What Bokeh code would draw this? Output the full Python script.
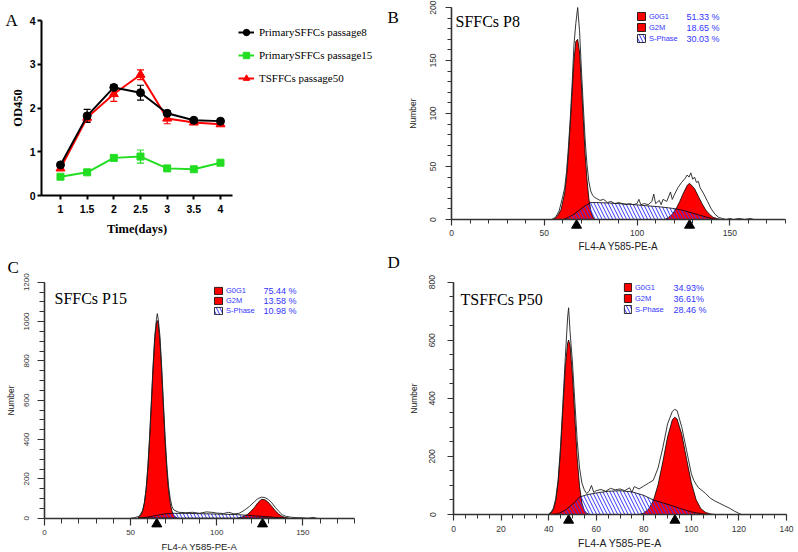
from bokeh.plotting import figure
from bokeh.layouts import column, row
from bokeh.models import (Range1d, Whisker, TeeHead, Legend, LegendItem, Label,
                          FixedTicker, SingleIntervalTicker, ColumnDataSource)
from bokeh.embed import file_html
from bokeh.resources import INLINE

SERIF = "Liberation Serif"
SANS = "Liberation Sans"
RED = "#ff0000"
GREEN = "#22dd22"
BLUE = "#3535ff"
AXIS = "#333333"

# ---------------- A: growth curves (OD450) ----------------
days = [1, 1.5, 2, 2.5, 3, 3.5, 4]
day_labels = ["1", "1.5", "2", "2.5", "3", "3.5", "4"]
od_ticks = [0, 1, 2, 3, 4]
p8_mean = [0.70, 1.82, 2.47, 2.35, 1.88, 1.72, 1.70]
p8_err = [0.05, 0.15, 0.06, 0.17, 0.05, 0.04, 0.05]
p15_mean = [0.43, 0.53, 0.86, 0.89, 0.62, 0.60, 0.75]
p15_err = [0.03, 0.04, 0.06, 0.15, 0.04, 0.04, 0.04]
p50_mean = [0.62, 1.78, 2.32, 2.76, 1.76, 1.67, 1.63]
p50_err = [0.04, 0.08, 0.17, 0.11, 0.12, 0.04, 0.04]
series_names = ["PrimarySFFCs passage8", "PrimarySFFCs passage15", "TSFFCs passage50"]

# ---------------- cell-cycle histograms ----------------
phase_names = ["G0G1", "G2M", "S-Phase"]

# B: SFFCs P8
B_raw_x = [50, 54, 56, 58, 60, 61, 62, 63, 64, 65, 66, 67, 68, 69, 70, 71, 72, 73, 74, 75, 76, 77, 78,
           80, 82, 84, 86, 88, 90, 92, 94, 96, 98, 100, 101, 102, 104, 106, 108, 109, 110, 112, 113, 114,
           116, 118, 119, 120, 122, 124, 126, 127, 128, 129, 130, 131, 132, 133, 134, 136, 138, 140, 142,
           144, 146, 148, 150, 152, 155, 158, 161, 163, 166]
B_raw_y = [0, 0, 2, 8, 22, 30, 45, 68, 95, 128, 165, 185, 200, 178, 142, 108, 76, 52, 36, 27, 23, 21, 20,
           18, 19, 16, 17, 15, 16, 15, 14, 15, 14, 15, 19, 14, 15, 14, 17, 24, 15, 18, 14, 19,
           17, 26, 19, 23, 30, 35, 39, 42, 40, 44, 38, 40, 35, 36, 30, 24, 17, 10, 5,
           2, 1, 0, 1, 0, 1, 0, 1, 0, 0]
B_g1_x = [55, 57, 59, 61, 62, 63, 64, 65, 66, 67, 68, 69, 70, 71, 72, 73, 74, 75, 76, 77]
B_g1_y = [0, 3, 9, 25, 40, 62, 90, 120, 150, 168, 170, 158, 128, 95, 62, 38, 20, 9, 3, 0]
B_g2_x = [115, 117, 119, 121, 123, 125, 127, 128, 129, 131, 133, 135, 137, 139, 141, 143, 145]
B_g2_y = [0, 2, 5, 10, 17, 25, 32, 34, 33, 29, 22, 15, 9, 5, 2, 1, 0]
B_s_x = [60, 63, 66, 69, 72, 75, 78, 85, 95, 105, 112, 117, 121, 125, 129, 133, 137, 140, 143]
B_s_y = [0, 2, 5, 9, 13, 16, 16, 15.5, 14.5, 13, 12, 11, 10, 8.5, 6.5, 4.5, 2.5, 1, 0]
B_peaks = [67.4, 128.3]
B_pct = ["51.33 %", "18.65 %", "30.03 %"]

# C: SFFCs P15
C_raw_x = [50, 52, 55, 57, 58, 59, 60, 61, 62, 63, 64, 65, 65.5, 66, 67, 68, 69, 70, 71, 72, 73, 74, 75,
           78, 82, 86, 90, 94, 97, 100, 104, 107, 110, 113, 116, 119, 122, 124, 126, 128, 130, 132, 134,
           136, 138, 140, 143, 146, 150, 153, 156, 158]
C_raw_y = [0, 2, 10, 40, 80, 150, 260, 410, 585, 770, 925, 1010, 1040, 1015, 930, 775, 595, 420, 275, 165,
           100, 60, 42, 30, 28, 30, 25, 32, 30, 26, 24, 30, 22, 25, 40, 60, 85, 100, 107, 105, 95, 78, 55,
           35, 18, 10, 5, 3, 2, 0, 4, 0]
C_g1_x = [54, 55, 56, 57, 58, 59, 60, 61, 62, 63, 64, 65, 65.5, 66, 67, 68, 69, 70, 71, 72, 73, 74, 75, 76, 77]
C_g1_y = [0, 6, 16, 36, 76, 145, 251, 397, 573, 755, 906, 994, 1005, 994, 906, 755, 573, 397, 251, 145,
          76, 36, 16, 6, 0]
C_g2_x = [112, 114, 116, 118, 120, 122, 124, 126, 128, 130, 132, 134, 136, 138, 140, 142]
C_g2_y = [0, 4, 10, 20, 36, 56, 80, 96, 94, 80, 60, 38, 21, 9, 3, 0]
C_s_x = [55, 60, 65, 70, 75, 85, 95, 105, 112, 118, 124, 130, 135, 140]
C_s_y = [0, 6, 14, 22, 25, 24, 22, 20, 18, 15, 11, 7, 3.5, 0]
C_peaks = [65.2, 126.6]
C_pct = ["75.44 %", "13.58 %", "10.98 %"]

# D: TSFFCs P50
D_raw_x = [40, 41, 42, 43, 44, 45, 46, 47, 48, 48.4, 49, 50, 51, 52, 53, 54, 55, 56, 57, 58, 59, 60,
           62, 64, 66, 68, 70, 72, 74, 75, 76, 78, 80, 82, 84, 86, 88, 90, 92, 93, 94, 96, 98, 100,
           101, 102, 103, 104, 106, 108, 110, 112, 114, 116, 118, 120, 121]
D_raw_y = [2, 8, 22, 55, 120, 235, 385, 540, 680, 712, 630, 525, 390, 255, 160, 108, 85, 72, 80, 100, 76, 82,
           86, 80, 90, 85, 88, 82, 92, 76, 96, 88, 98, 108, 118, 160, 230, 312, 355, 362, 358, 300, 220, 140,
           118, 104, 92, 86, 72, 56, 46, 38, 30, 22, 12, 4, 0]
D_g1_x = [40, 41, 42, 43, 44, 45, 46, 47, 48, 48.4, 49, 50, 51, 52, 53, 54, 55, 56, 57]
D_g1_y = [0, 5, 17, 48, 112, 220, 365, 506, 591, 601, 583, 480, 336, 195, 96, 39, 14, 4, 0]
D_g2_x = [78, 80, 82, 84, 86, 88, 90, 92, 93, 94, 96, 98, 100, 102, 104, 106, 108, 110]
D_g2_y = [0, 5, 18, 47, 102, 181, 267, 326, 335, 329, 275, 190, 109, 51, 20, 7, 2, 0]
D_s_x = [41, 44, 47, 50, 53, 56, 60, 65, 70, 75, 80, 84, 88, 92, 96, 100, 104, 107]
D_s_y = [0, 3, 15, 35, 60, 68, 74, 80, 82, 78, 66, 50, 40, 30, 19, 9, 3, 0]
D_peaks = [48.4, 93.1]
D_pct = ["34.93%", "36.61%", "28.46 %"]


def canvas(W, H, box, xr, yr):
    """Figure whose frame fills the whole canvas; the data area sits in `box`
    (left, right, top, base pixels) so axes and texts all stay inside the frame."""
    l, r, t, b = box
    x0, x1 = xr
    y0, y1 = yr
    ppx = (r - l) / (x1 - x0)
    ppy = (b - t) / (y1 - y0)
    p = figure(width=W, height=H,
               x_range=Range1d(x0 - l / ppx, x1 + (W - r) / ppx),
               y_range=Range1d(y0 - (H - b) / ppy, y1 + t / ppy),
               output_backend="svg", toolbar_location=None, title=None,
               min_border_left=0, min_border_right=0, min_border_top=0, min_border_bottom=0)
    p.outline_line_color = None
    p.xgrid.visible = False
    p.ygrid.visible = False
    p.background_fill_color = "white"
    p.border_fill_color = "white"

    def dx(px):
        return x0 + (px - l) / ppx

    def dy(py):
        return y0 + (b - py) / ppy

    xa, ya = p.xaxis[0], p.yaxis[0]
    xa.fixed_location = y0
    xa.bounds = (x0, x1)
    ya.fixed_location = x0
    ya.bounds = (y0, y1)
    return p, dx, dy


def growth_panel():
    W, H = 385, 250
    p, dx, dy = canvas(W, H, (41, 232, 20, 195), (0.644, 4.225), (0, 4))

    specs = {
        "p15": (p15_mean, p15_err, GREEN, "square", 7),
        "p50": (p50_mean, p50_err, RED, "triangle", 9),
        "p8": (p8_mean, p8_err, "black", "circle", 8),
    }
    rends = {}
    for key in ["p15", "p50", "p8"]:
        mean, err, col, mk, sz = specs[key]
        src = ColumnDataSource(dict(x=days, lo=[m - e for m, e in zip(mean, err)],
                                    hi=[m + e for m, e in zip(mean, err)]))
        p.add_layout(Whisker(source=src, base="x", lower="lo", upper="hi",
                             line_color=col, line_width=1.2,
                             upper_head=TeeHead(size=7, line_color=col, line_width=1.2),
                             lower_head=TeeHead(size=7, line_color=col, line_width=1.2)))
        ln = p.line(days, mean, line_color=col, line_width=2)
        mr = p.scatter(days, mean, marker=mk, size=sz, fill_color=col, line_color=col)
        rends[key] = [ln, mr]

    leg = Legend(items=[LegendItem(label=series_names[0], renderers=rends["p8"]),
                        LegendItem(label=series_names[1], renderers=rends["p15"]),
                        LegendItem(label=series_names[2], renderers=rends["p50"])],
                 location=(238, H - (23 + 3 * 18 + 2 * 5)),
                 glyph_width=16, glyph_height=18, label_height=18, spacing=5,
                 padding=0, margin=0, label_standoff=5,
                 border_line_color=None, background_fill_alpha=0,
                 label_text_font=SERIF, label_text_font_size="11px", label_text_color="black")
    p.add_layout(leg)

    xa, ya = p.xaxis[0], p.yaxis[0]
    xa.ticker = FixedTicker(ticks=days)
    xa.major_label_overrides = {d: s for d, s in zip(days, day_labels)}
    ya.ticker = FixedTicker(ticks=od_ticks)
    for ax in (xa, ya):
        ax.axis_line_color = "black"
        ax.axis_line_width = 2
        ax.major_tick_line_color = "black"
        ax.major_tick_line_width = 2
        ax.major_tick_in = 0
        ax.major_tick_out = 4
        ax.minor_tick_line_color = None
        ax.major_label_text_font = SANS
        ax.major_label_text_font_style = "bold"
        ax.major_label_text_font_size = "10.5px"
        ax.major_label_text_color = "black"
        ax.axis_label_text_font = SERIF
        ax.axis_label_text_font_style = "bold"
        ax.axis_label_text_font_size = "12.5px"
        ax.axis_label_text_color = "black"
    xa.axis_label = "Time(days)"
    ya.axis_label = "OD450"
    xa.major_label_standoff = 5
    xa.axis_label_standoff = 6
    ya.major_label_standoff = 2
    ya.axis_label_standoff = 2

    p.add_layout(Label(x=dx(5), y=dy(20), text="A", text_font=SERIF, text_font_size="17px",
                       text_color="black", text_baseline="alphabetic"))
    return p


def flow_panel(cfg, raw_x, raw_y, g1_x, g1_y, g2_x, g2_y, s_x, s_y, peaks, pct, title, letter):
    W, H = cfg["W"], cfg["H"]
    l, r, t, b = cfg["box"]
    xmax, ymax = cfg["xmax"], cfg["ymax"]
    p, dx, dy = canvas(W, H, cfg["box"], (0, xmax), (0, ymax))

    r1 = p.patch(g1_x, g1_y, fill_color=RED, line_color="black", line_width=0.8)
    r2 = p.patch(g2_x, g2_y, fill_color=RED, line_color="black", line_width=0.8)
    rs = p.patch(s_x, s_y, fill_alpha=0, hatch_pattern="\\", hatch_color=BLUE, hatch_scale=7,
                 hatch_weight=1, line_color="black", line_width=0.8)
    p.line(raw_x, raw_y, line_color="#202020", line_width=0.9)
    p.scatter(peaks, [dy(b + 5.8)] * len(peaks), marker="triangle", size=10,
              fill_color="black", line_color="black")

    gh, sp = cfg["leg_gh"], 1
    leg_h = 3 * gh + 2 * sp
    leg = Legend(items=[LegendItem(label=n, renderers=[rr]) for n, rr in zip(phase_names, [r1, r2, rs])],
                 location=(cfg["leg_x"], H - (cfg["leg_top"] + leg_h)),
                 glyph_width=cfg["leg_gw"], glyph_height=gh, label_height=gh, spacing=sp,
                 padding=0, margin=0, label_standoff=3,
                 border_line_color=None, background_fill_alpha=0,
                 label_text_font=SANS, label_text_font_size="7.5px", label_text_color=BLUE)
    p.add_layout(leg)
    for i, txt in enumerate(pct):
        p.add_layout(Label(x=dx(cfg["pct_x"]), y=dy(cfg["leg_top"] + gh / 2 + i * (gh + sp)), text=txt,
                           text_font=SANS, text_font_size="9px", text_color=BLUE,
                           text_baseline="middle"))

    xa, ya = p.xaxis[0], p.yaxis[0]
    xa.ticker = SingleIntervalTicker(interval=cfg["xmajor"], num_minor_ticks=cfg["xminor"])
    ya.ticker = SingleIntervalTicker(interval=cfg["ymajor"], num_minor_ticks=cfg["yminor"])
    for ax in (xa, ya):
        ax.axis_line_color = AXIS
        ax.axis_line_width = 1.6
        ax.major_tick_line_color = AXIS
        ax.minor_tick_line_color = AXIS
        ax.major_tick_line_width = 1.2
        ax.minor_tick_line_width = 1
        ax.major_tick_in = 0
        ax.minor_tick_in = 0
        ax.major_tick_out = cfg["maj"]
        ax.minor_tick_out = cfg["minr"]
        ax.major_label_text_font = SANS
        ax.major_label_text_font_size = cfg["tick_fs"]
        ax.major_label_text_color = AXIS
        ax.axis_label_text_font = SANS
        ax.axis_label_text_font_style = "normal"
        ax.axis_label_text_color = "#222222"
    xa.axis_label = "FL4-A Y585-PE-A"
    xa.axis_label_text_font_size = cfg["xlab_fs"]
    ya.axis_label = "Number"
    ya.axis_label_text_font_size = "8.5px"
    ya.major_label_orientation = "vertical"
    xa.major_label_standoff = cfg["x_std"][0]
    xa.axis_label_standoff = cfg["x_std"][1]
    ya.major_label_standoff = cfg["y_std"][0]
    ya.axis_label_standoff = cfg["y_std"][1]

    p.add_layout(Label(x=dx(cfg["title_xy"][0]), y=dy(cfg["title_xy"][1]), text=title,
                       text_font=SERIF, text_font_size="16px", text_color="black",
                       text_baseline="alphabetic"))
    p.add_layout(Label(x=dx(cfg["letter_xy"][0]), y=dy(cfg["letter_xy"][1]), text=letter,
                       text_font=SERIF, text_font_size="17px", text_color="black",
                       text_baseline="alphabetic"))
    return p


cfgB = dict(W=413, H=250, box=(66, 400, 7, 219), xmax=180, ymax=200,
            xmajor=50, xminor=5, ymajor=50, yminor=5, maj=6, minr=4, tick_fs="8.5px", xlab_fs="10px",
            x_std=(4, 2), y_std=(10, 9), leg_x=251, leg_top=11, leg_gh=10, leg_gw=10, pct_x=301,
            title_xy=(70, 21), letter_xy=(2, 17))
cfgC = dict(W=385, H=302, box=(44, 354, 31.7, 267.7), xmax=180, ymax=1200,
            xmajor=50, xminor=5, ymajor=200, yminor=4, maj=7, minr=5, tick_fs="8px", xlab_fs="9.5px",
            x_std=(5, 2), y_std=(8, 6), leg_x=213, leg_top=35.5, leg_gh=9, leg_gw=10, pct_x=263,
            title_xy=(54, 48), letter_xy=(7, 17))
cfgD = dict(W=413, H=302, box=(68, 401, 31.7, 264), xmax=140, ymax=800,
            xmajor=20, xminor=4, ymajor=200, yminor=4, maj=6, minr=4, tick_fs="8.5px", xlab_fs="10.5px",
            x_std=(5, 2), y_std=(12, 8), leg_x=238, leg_top=32, leg_gh=10, leg_gw=9, pct_x=288,
            title_xy=(75, 49), letter_xy=(2, 12))

pA = growth_panel()
pB = flow_panel(cfgB, B_raw_x, B_raw_y, B_g1_x, B_g1_y, B_g2_x, B_g2_y, B_s_x, B_s_y,
                B_peaks, B_pct, "SFFCs P8", "B")
pC = flow_panel(cfgC, C_raw_x, C_raw_y, C_g1_x, C_g1_y, C_g2_x, C_g2_y, C_s_x, C_s_y,
                C_peaks, C_pct, "SFFCs P15", "C")
pD = flow_panel(cfgD, D_raw_x, D_raw_y, D_g1_x, D_g1_y, D_g2_x, D_g2_y, D_s_x, D_s_y,
                D_peaks, D_pct, "TSFFCs P50", "D")

layout = column(row(pA, pB), row(pC, pD))
open("out.html", "w").write(file_html(layout, INLINE))
